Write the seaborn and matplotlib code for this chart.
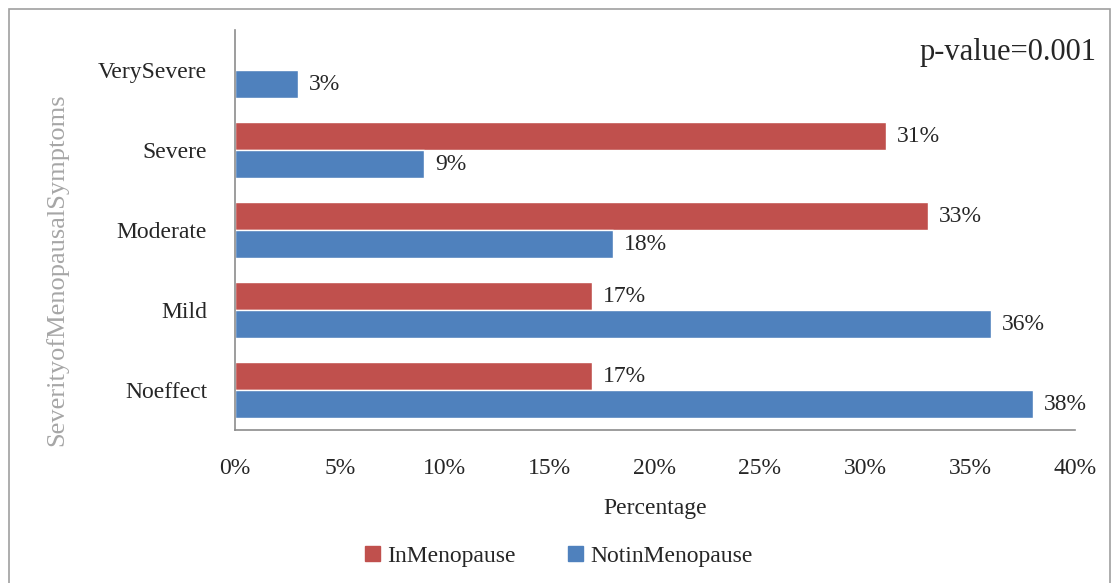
import matplotlib
matplotlib.use("Agg")
import matplotlib.pyplot as plt
import matplotlib.patches as mpatches
import seaborn as sns
import pandas as pd

# values (percent)
categories = ["VerySevere", "Severe", "Moderate", "Mild", "Noeffect"]
in_menopause = [0, 31, 33, 17, 17]
not_in_menopause = [3, 9, 18, 36, 38]
groups = ["InMenopause", "NotinMenopause"]
x_ticks = [0, 5, 10, 15, 20, 25, 30, 35, 40]

df = pd.DataFrame({
    "Severity": categories * 2,
    "Group": [groups[0]] * len(categories) + [groups[1]] * len(categories),
    "Value": in_menopause + not_in_menopause,
})

sns.set_style("white")
plt.rcParams["font.family"] = ["Liberation Serif", "DejaVu Serif"]

fig = plt.figure(figsize=(11.13, 5.83), dpi=100)
ax = fig.add_axes([0.2111, 0.2624, 0.7547, 0.6861])

palette = {"InMenopause": "#C0504D", "NotinMenopause": "#4F81BD"}
sns.barplot(data=df, y="Severity", x="Value", hue="Group", order=categories,
            hue_order=groups, palette=palette, width=0.7, orient="h",
            saturation=1, ax=ax, legend=False)

for cont in ax.containers:
    labels = [f"{v:.0f}%" if v > 0 else "" for v in cont.datavalues]
    ax.bar_label(cont, labels=labels, padding=8, fontsize=17)

ax.set_xlim(0, 40)
ax.set_xticks(x_ticks)
ax.set_xticklabels([f"{t}%" for t in x_ticks], fontsize=17)
ax.tick_params(axis="x", length=0, pad=20)
ax.tick_params(axis="y", length=0, pad=20, labelsize=17)
ax.set_xlabel("Percentage", fontsize=17, labelpad=14)
ax.set_ylabel("SeverityofMenopausalSymptoms", fontsize=19, color="#A6A6A6")
ax.yaxis.set_label_coords(-0.198, 0.4)

for side in ["top", "right"]:
    ax.spines[side].set_visible(False)
for side in ["left", "bottom"]:
    ax.spines[side].set_color("#8C8C8C")
    ax.spines[side].set_linewidth(1.2)

ax.text(1.026, 0.945, "p-value=0.001", transform=ax.transAxes, ha="right",
        va="center", fontsize=22)

handles = [mpatches.Patch(color=palette[g], label=g) for g in groups]
fig.legend(handles=handles, loc="center", bbox_to_anchor=(0.502, 0.046),
           ncol=2, frameon=False, fontsize=17, handlelength=0.65,
           handleheight=0.65, handletextpad=0.3, columnspacing=2.2)

# outer chart border
fig.patches.append(mpatches.Rectangle((9 / 1113, -0.01), 1101 / 1113, 1 - 9 / 583 + 0.01,
                                      transform=fig.transFigure, fill=False,
                                      edgecolor="#A0A0A0", linewidth=1.2))

fig.savefig("out.png", dpi=100)
